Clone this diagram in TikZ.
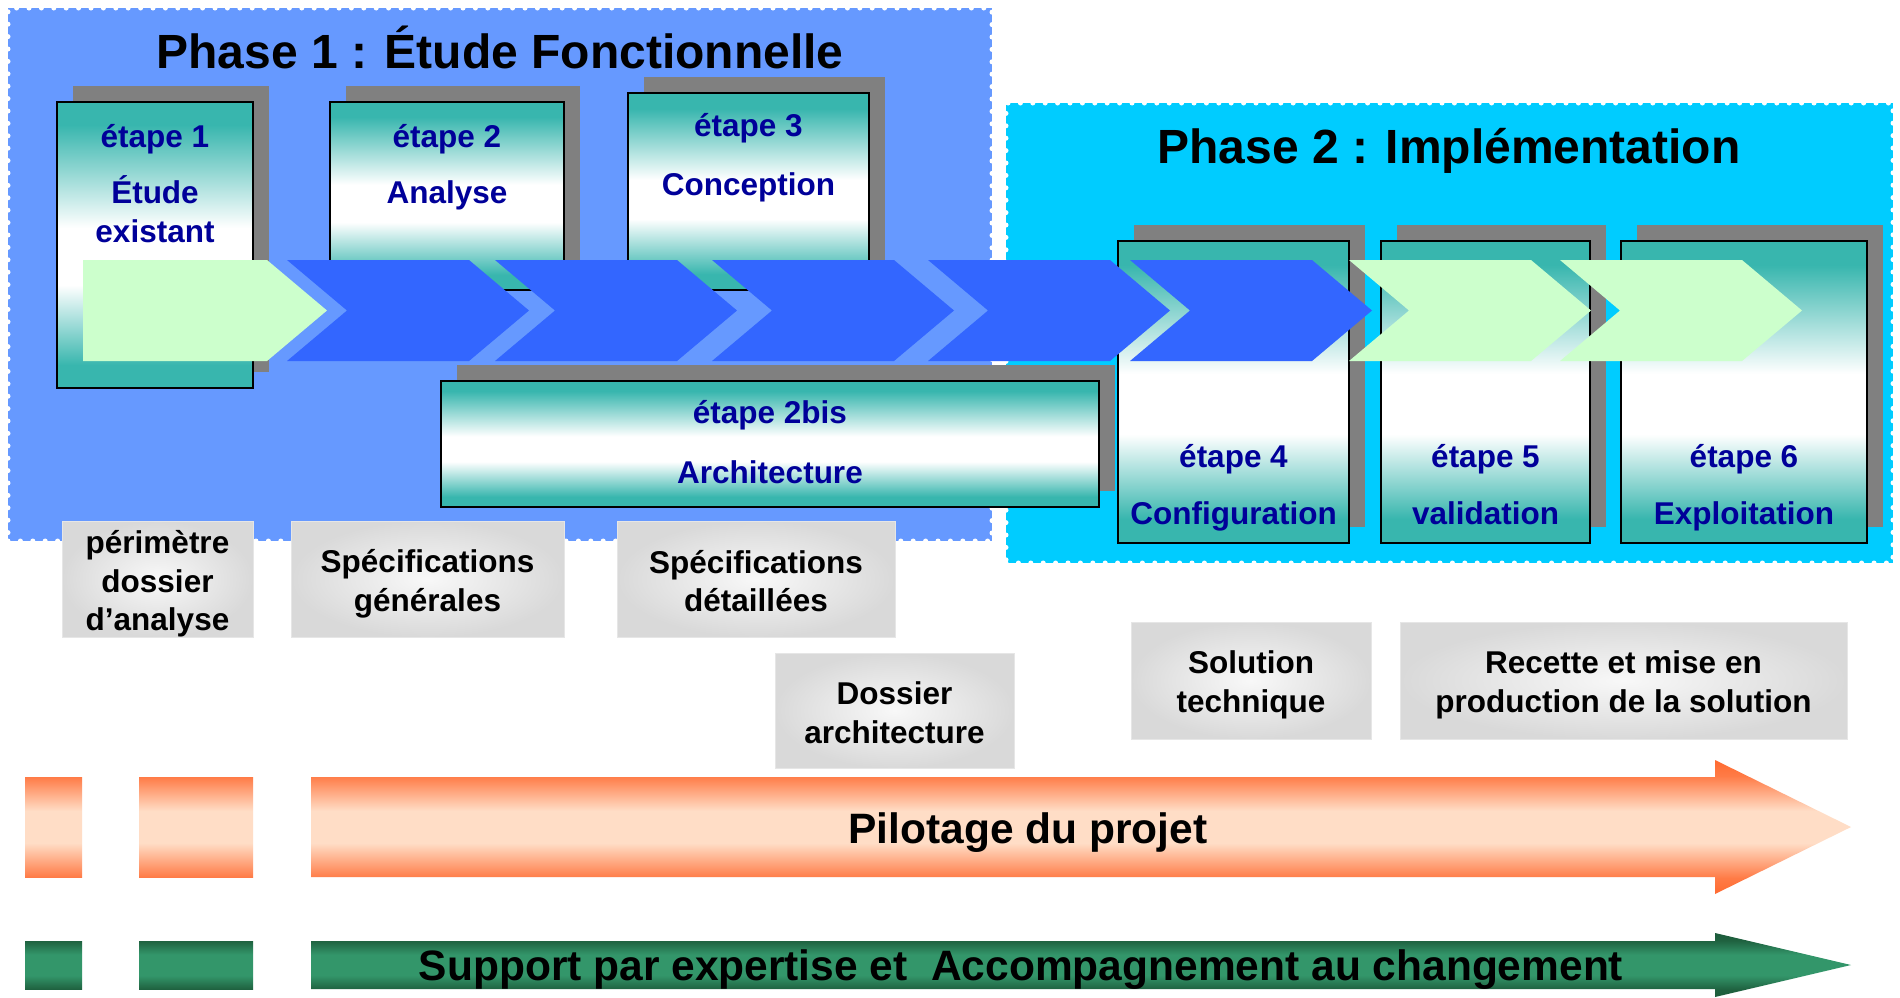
\documentclass[tikz,border=0pt]{standalone}
\usepackage{fontspec}
\setmainfont{Liberation Sans}
\usetikzlibrary{shadows}
\definecolor{phaseA}{HTML}{6699FF}
\definecolor{phaseB}{HTML}{00CCFF}
\definecolor{tealc}{HTML}{38B6AE}
\definecolor{shadowc}{HTML}{808080}
\definecolor{stepblue}{HTML}{000099}
\definecolor{chevblue}{HTML}{3366FF}
\definecolor{chevgreen}{HTML}{CCFFCC}
\definecolor{delivout}{HTML}{D9D9D9}
\definecolor{delivin}{HTML}{F8F8F8}
\definecolor{delivborder}{HTML}{E6E6E6}
\definecolor{orangeedge}{HTML}{FF6A30}
\definecolor{orangemid}{HTML}{FFDDC6}
\definecolor{greenedge}{HTML}{1D5C3B}
\definecolor{greenmid}{HTML}{33966A}
\colorlet{orangeband}{orangeedge!85!orangemid}
\colorlet{greenband}{greenedge!90!greenmid}
\pgfdeclareverticalshading{tealsh}{100bp}{color(0bp)=(tealc); color(25bp)=(tealc); color(29bp)=(tealc); color(43bp)=(white); color(53bp)=(white); color(71bp)=(tealc); color(100bp)=(tealc)}
\pgfdeclareverticalshading{orangesh}{100bp}{color(0bp)=(orangeedge); color(25bp)=(orangeedge); color(31bp)=(orangeband); color(44bp)=(orangemid); color(56bp)=(orangemid); color(69bp)=(orangeband); color(75bp)=(orangeedge); color(100bp)=(orangeedge)}
\pgfdeclareverticalshading{orangerectsh}{100bp}{color(0bp)=(orangeband); color(25bp)=(orangeband); color(42bp)=(orangemid); color(58bp)=(orangemid); color(75bp)=(orangeband); color(100bp)=(orangeband)}
\pgfdeclareverticalshading{greensh}{100bp}{color(0bp)=(greenedge); color(25bp)=(greenedge); color(31bp)=(greenband); color(42bp)=(greenmid); color(58bp)=(greenmid); color(69bp)=(greenband); color(75bp)=(greenedge); color(100bp)=(greenedge)}
\pgfdeclareverticalshading{greenrectsh}{100bp}{color(0bp)=(greenband); color(25bp)=(greenband); color(39bp)=(greenmid); color(61bp)=(greenmid); color(75bp)=(greenband); color(100bp)=(greenband)}
\begin{document}
\begin{tikzpicture}[x=1pt,y=-1pt,
  phasebox/.style={draw=white, line width=5pt, dash pattern=on 0pt off 12.4pt, line cap=round, inner sep=0pt, outer sep=0pt},
  titletext/.style={font=\fontsize{48}{56}\selectfont\bfseries, text=black, inner sep=0pt},
  stepbox/.style={draw=black, line width=2pt, shade, shading=tealsh, inner sep=0pt, outer sep=0pt,
     drop shadow={shadow xshift=16pt, shadow yshift=16pt, fill=shadowc, opacity=1}},
  steptext/.style={font=\fontsize{31.5}{40}\selectfont\bfseries, text=stepblue, inner sep=0pt, anchor=base},
  delivbox/.style={draw=delivborder, line width=1pt, inner color=delivin, outer color=delivout, inner sep=0pt,
     font=\fontsize{31.5}{38.5}\selectfont\bfseries, text=black, align=center},
  arrowtext/.style={font=\fontsize{42.5}{50}\selectfont\bfseries, text=black, inner sep=0pt}
]
\fill[white] (0,0) rectangle (1900,997);
\useasboundingbox (0,0) rectangle (1900,997);

% phases
\node[phasebox, fill=phaseA, minimum width=984pt, minimum height=533pt] (ph1) at (500,274.5) {};
\node[phasebox, fill=phaseB, minimum width=887pt, minimum height=460pt] (ph2) at (1449.5,333) {};
\node[titletext, anchor=base] (ti1) at (500,68) {Phase 1 : Étude Fonctionnelle};
\node[titletext, anchor=base] (ti2) at (1449,163) {Phase 2 : Implémentation};

% step boxes
\node[stepbox, minimum width=196pt, minimum height=286pt] (e1) at (155,245) {};
\node[stepbox, minimum width=234pt, minimum height=188pt] (e2) at (447,196) {};
\node[stepbox, minimum width=241pt, minimum height=197pt] (e3) at (748.5,191.5) {};
\node[stepbox, minimum width=658pt, minimum height=126pt] (e2b) at (770,444) {};
\node[stepbox, minimum width=231pt, minimum height=302pt] (e4) at (1233.5,392) {};
\node[stepbox, minimum width=209pt, minimum height=302pt] (e5) at (1485.5,392) {};
\node[stepbox, minimum width=246pt, minimum height=302pt] (e6) at (1744,392) {};

\node[steptext] (e1a) at (155,147) {étape 1};
\node[steptext] (e1b) at (155,203) {Étude};
\node[steptext] (e1c) at (155,242) {existant};
\node[steptext] (e2a) at (447,147) {étape 2};
\node[steptext] (e2c) at (447,203) {Analyse};
\node[steptext] (e3a) at (748.5,136) {étape 3};
\node[steptext] (e3c) at (748.5,195) {Conception};
\node[steptext] (e2ba) at (770,423) {étape 2bis};
\node[steptext] (e2bc) at (770,483) {Architecture};
\node[steptext] (e4a) at (1233.5,467) {étape 4};
\node[steptext] (e4c) at (1233.5,524) {Configuration};
\node[steptext] (e5a) at (1485.5,467) {étape 5};
\node[steptext] (e5c) at (1485.5,524) {validation};
\node[steptext] (e6a) at (1744,467) {étape 6};
\node[steptext] (e6c) at (1744,524) {Exploitation};

% chevrons
\fill[chevgreen] (83,260) -- (267,260) -- (327,310.5) -- (267,361) -- (83,361) -- cycle;
\foreach \L in {287,495,712,928,1130}
  \fill[chevblue] (\L,260) -- ++(182,0) -- ++(60,50.5) -- ++(-60,50.5) -- ++(-182,0) -- ++(60,-50.5) -- cycle;
\foreach \L in {1349,1560}
  \fill[chevgreen] (\L,260) -- ++(182,0) -- ++(60,50.5) -- ++(-60,50.5) -- ++(-182,0) -- ++(60,-50.5) -- cycle;

% deliverables
\node[delivbox, minimum width=191pt, minimum height=116pt] (d1) at (157.5,579) {};
\node[delivbox, minimum width=273pt, minimum height=116pt] (d2) at (427.5,579) {};
\node[delivbox, minimum width=278pt, minimum height=116pt] (d3) at (756,579) {};
\node[delivbox, minimum width=239pt, minimum height=115pt] (d4) at (894.5,710.5) {};
\node[delivbox, minimum width=240pt, minimum height=117pt] (d5) at (1251,680.5) {};
\node[delivbox, minimum width=447pt, minimum height=117pt] (d6) at (1623.5,680.5) {};
\node[delivbox, draw=none, shade=none, fill=none] (d1t) at (157.5,584) {périmètre\\dossier\\d’analyse};
\node[delivbox, draw=none, shade=none, fill=none] (d2t) at (427.5,584) {Spécifications\\générales};
\node[delivbox, draw=none, shade=none, fill=none] (d3t) at (756,581) {Spécifications\\détaillées};
\node[delivbox, draw=none, shade=none, fill=none] (d4t) at (894.5,712.5) {Dossier\\architecture};
\node[delivbox, draw=none, shade=none, fill=none] (d5t) at (1251,685) {Solution\\technique};
\node[delivbox, draw=none, shade=none, fill=none] (d6t) at (1623.5,685) {Recette et mise en\\production de la solution};

% pilotage arrow
\shade[shading=orangerectsh] (25,777) rectangle (82,877);
\shade[shading=orangerectsh] (139,777) rectangle (253,877);
\shade[shading=orangesh] (311,777) -- (1715,777) -- (1715,760) -- (1851,827) -- (1715,894) -- (1715,877) -- (311,877) -- cycle;
\node[arrowtext] (pil) at (1028,833) {Pilotage du projet};

% support arrow
\shade[shading=greenrectsh] (25,941) rectangle (82,989);
\shade[shading=greenrectsh] (139,941) rectangle (253,989);
\shade[shading=greensh] (311,941) -- (1715,941) -- (1715,933) -- (1851,965) -- (1715,997) -- (1715,989) -- (311,989) -- cycle;
\node[arrowtext] (sup) at (1021,970) {Support par expertise et~ Accompagnement au changement};
\end{tikzpicture}
\end{document}
